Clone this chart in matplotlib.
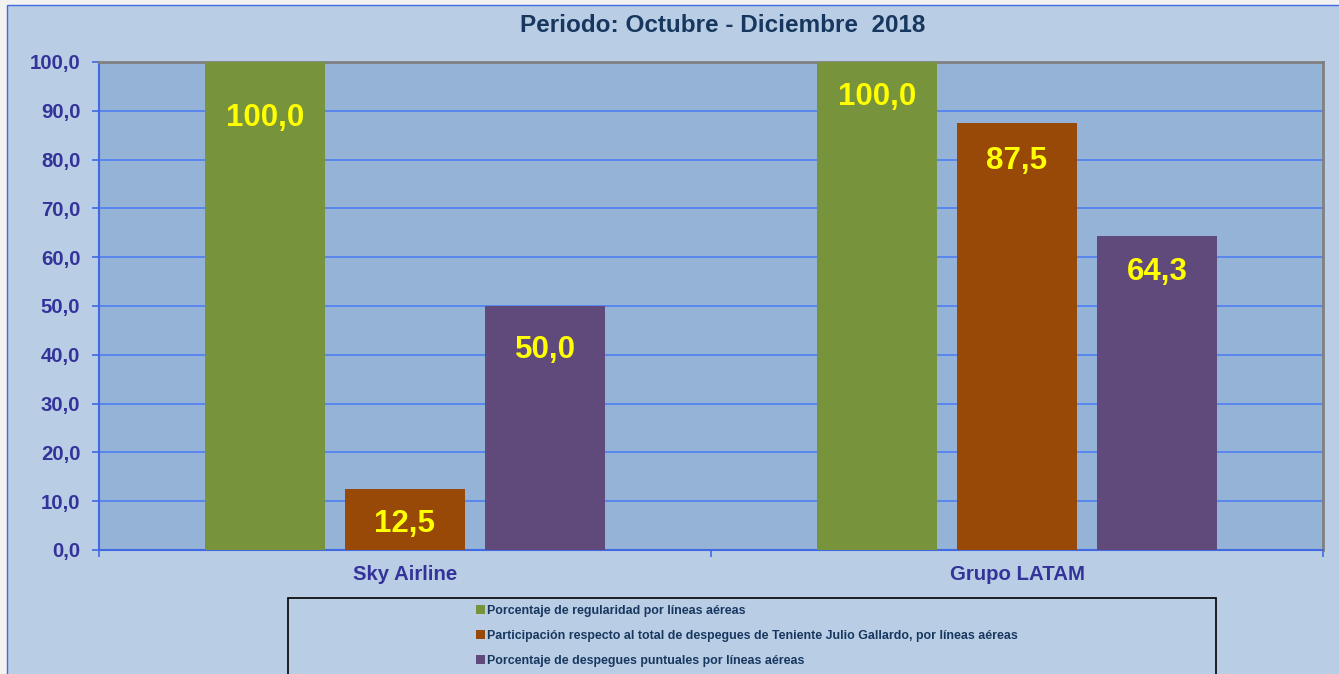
import matplotlib
matplotlib.use("Agg")
import matplotlib.pyplot as plt
from matplotlib.patches import Rectangle
from matplotlib.ticker import FuncFormatter, FixedLocator
import numpy as np

plt.rcParams['font.family'] = ['Liberation Sans', 'DejaVu Sans']

# datos
categories = ['Sky Airline', 'Grupo LATAM']
regularidad = [100.0, 100.0]
participacion = [12.5, 87.5]
puntuales = [50.0, 64.3]
series_labels = [
    'Porcentaje de regularidad por líneas aéreas',
    'Participación respecto al total de despegues de Teniente Julio Gallardo, por líneas aéreas',
    'Porcentaje de despegues puntuales por líneas aéreas',
]
title = 'Periodo: Octubre - Diciembre  2018'
yticks = [0, 10, 20, 30, 40, 50, 60, 70, 80, 90, 100]

# estilo
colors = ['#77933C', '#984807', '#604A7B']
label_offsets = [[40, 25, 32], [25, 27, 26]]  # pt bajo el tope de la barra
W, H = 1339, 674
fig = plt.figure(figsize=(W / 100, H / 100), dpi=100, facecolor='#F2F2F2')

# marco del grafico
fig.patches.append(Rectangle((7 / W, -0.01), 1.0, 1 - 5 / H + 0.01, transform=fig.transFigure,
                             facecolor='#B9CDE5', edgecolor='#4169E1', lw=1.0, zorder=-5))

ax = fig.add_axes([99 / W, 1 - 550 / H, (1323 - 99) / W, (550 - 62) / H])
ax.set_facecolor('#95B3D7')

x = np.arange(len(categories))
width = 0.196
offsets = [-0.229, 0.0, 0.229]
series = [regularidad, participacion, puntuales]
for s, (vals, off, col, lab) in enumerate(zip(series, offsets, colors, series_labels)):
    bars = ax.bar(x + off, vals, width, color=col, label=lab, zorder=3)
    for i, b in enumerate(bars):
        v = vals[i]
        ax.annotate(f"{v:.1f}".replace('.', ','), (b.get_x() + b.get_width() / 2, v),
                    xytext=(0, -label_offsets[i][s]), textcoords='offset points',
                    ha='center', va='center', color='#FFFF00', fontsize=22.5,
                    fontweight='bold', zorder=4)

ax.set_xlim(-0.5, 1.5)
ax.set_ylim(0, 100)
ax.set_yticks(yticks)
ax.yaxis.set_major_formatter(FuncFormatter(lambda v, p: f"{v:.1f}".replace('.', ',')))
ax.set_axisbelow(True)
ax.grid(axis='y', color='#4F7FF2', lw=1.2, zorder=1)

ax.set_xticks(x)
ax.set_xticklabels(categories)
ax.xaxis.set_minor_locator(FixedLocator([-0.5, 0.5, 1.5]))
ax.tick_params(axis='x', which='major', length=0, pad=11)
ax.tick_params(axis='x', which='minor', length=5, color='#4169E1', width=1.2)
ax.tick_params(axis='y', length=5, color='#4169E1', width=1.2, pad=8.5)
for lbl in ax.get_xticklabels() + ax.get_yticklabels():
    lbl.set_fontsize(14.7)
    lbl.set_fontweight('bold')
    lbl.set_color('#333399')

for side in ['left', 'bottom']:
    ax.spines[side].set_color('#4169E1')
    ax.spines[side].set_linewidth(1.5)
for side in ['top', 'right']:
    ax.spines[side].set_color('#808080')
    ax.spines[side].set_linewidth(2)

fig.text(723 / W, 1 - 25 / H, title, ha='center', va='center', fontsize=17.5,
         fontweight='bold', color='#17375E')

# leyenda
fig.patches.append(Rectangle((288 / W, -0.01), (1216 - 288) / W, (674 - 598) / H + 0.01,
                             transform=fig.transFigure, facecolor='none',
                             edgecolor='#000000', lw=1.2, zorder=5))
handles, labels = ax.get_legend_handles_labels()
leg = fig.legend(handles, labels, loc='upper left', bbox_to_anchor=(476 / W, 1 - 605 / H),
                 frameon=False, fontsize=8.9, handlelength=0.7, handleheight=0.7,
                 handletextpad=0.2, labelspacing=1.05, borderpad=0, borderaxespad=0)
for t in leg.get_texts():
    t.set_fontweight('bold')
    t.set_color('#17375E')

fig.savefig('out.png', dpi=100, facecolor=fig.get_facecolor())
